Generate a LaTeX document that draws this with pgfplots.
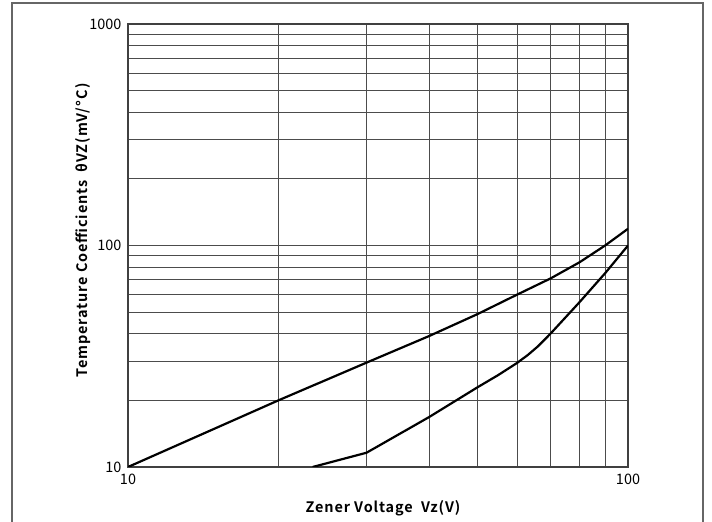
\documentclass[border=0pt]{standalone}
\usepackage{fontspec}
\setmainfont{Noto Sans CJK SC}[BoldFont={Noto Sans CJK SC Bold}]
\newfontfamily\labelfont{Noto Sans CJK SC Bold}[LetterSpace=6]
\usepackage{pgfplots}
\pgfplotsset{compat=1.18}
\begin{document}
\begin{tikzpicture}
\useasboundingbox (0,0) rectangle (712bp,522bp);
\draw[line width=1.5bp, color=black!60] (12bp,-2bp) -- (12bp,519bp) -- (703bp,519bp) -- (703bp,-2bp);
\begin{axis}[
  at={(128bp,55bp)}, anchor=south west,
  scale only axis, width=500bp, height=443bp,
  xmode=log, ymode=log,
  xmin=10, xmax=100, ymin=10, ymax=1000,
  xtick={10,100}, xticklabels={10,100},
  ytick={10,100,1000}, yticklabels={10,100,1000},
  minor xtick={20,30,40,50,60,70,80,90},
  minor ytick={20,30,40,50,60,70,80,90,200,300,400,500,600,700,800,900},
  grid=both,
  major grid style={black!70, line width=0.8bp},
  minor grid style={black!70, line width=0.8bp},
  axis line style={black!75, line width=1.3bp},
  major tick style={draw=none}, minor tick style={draw=none},
  /pgf/number format/assume math mode=true,
  tick label style={font=\fontsize{14.5}{16}\selectfont},
  xticklabel style={yshift=-3bp},
  yticklabel style={xshift=-3bp},
  label style={font=\labelfont\fontsize{14.5}{16}\selectfont},
  xlabel={Zener Voltage\ \ Vz(V)},
  ylabel={Temperature Coefficients\ \ θVZ(mV/°C\,)},
  xlabel style={at={(axis description cs:0.51,-0.093)}, anchor=center},
  ylabel style={at={(axis description cs:-0.09,0.535)}, anchor=center},
  clip=true,
]
\addplot[black, line width=2.2bp] coordinates {
  (10,10) (20,20) (30,29.6) (40,39) (50,49) (60,60) (70,71)
  (80,84) (90,100) (100,119)
};
\addplot[black, line width=2.2bp] coordinates {
  (23.4,10) (30,11.6) (40,16.8) (50,22.9) (55,26) (60,29.5) (63,32) (66,35)
  (70,40) (80,55.5) (90,75) (100,100)
};
\end{axis}
\end{tikzpicture}
\end{document}
